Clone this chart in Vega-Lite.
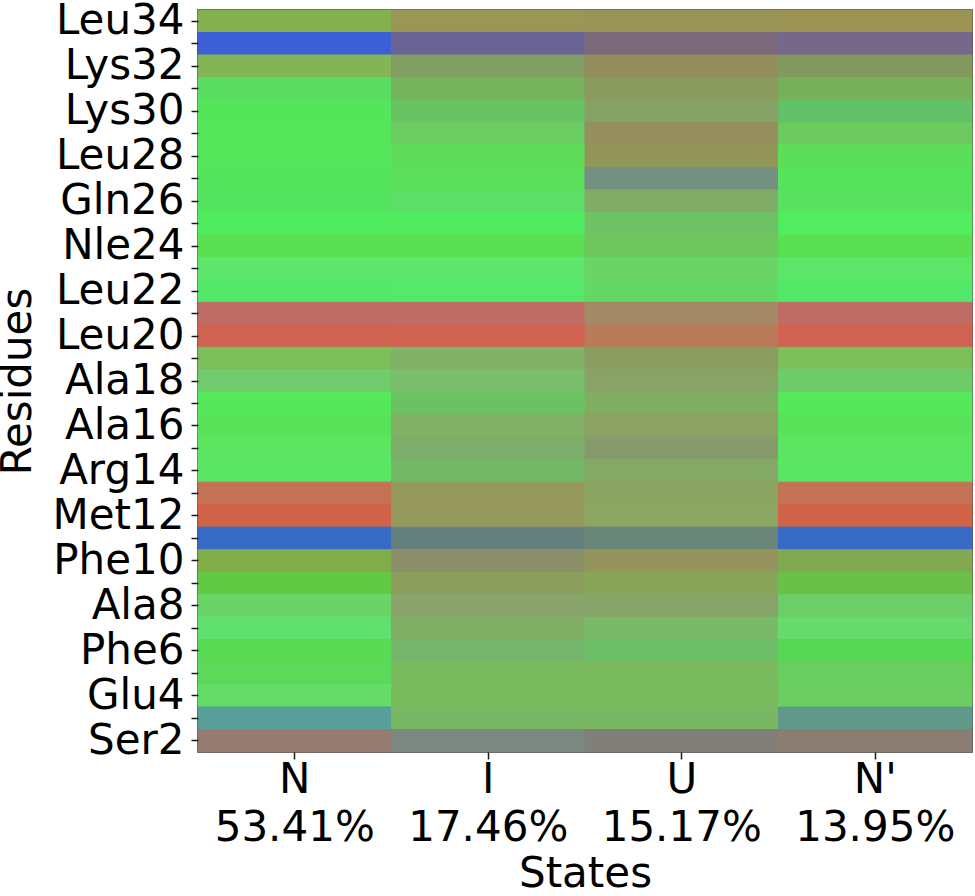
{
  "$schema": "https://vega.github.io/schema/vega-lite/v6.json",
  "autosize": {"type": "none"},
  "padding": {"left": 198, "top": 10, "right": 3, "bottom": 144},
  "width": 774,
  "height": 742,
  "background": "white",
  "datasets": {
    "cells": [
      {"num":34,"residue":"Leu34","state":"N 53.41%","mix":"#85b050"},{"num":34,"residue":"Leu34","state":"I 17.46%","mix":"#9a9655"},{"num":34,"residue":"Leu34","state":"U 15.17%","mix":"#989556"},{"num":34,"residue":"Leu34","state":"N' 13.95%","mix":"#9c9452"},
      {"num":33,"residue":"Gly33","state":"N 53.41%","mix":"#3d5fd6"},{"num":33,"residue":"Gly33","state":"I 17.46%","mix":"#6a6496"},{"num":33,"residue":"Gly33","state":"U 15.17%","mix":"#7a6a7c"},{"num":33,"residue":"Gly33","state":"N' 13.95%","mix":"#76688a"},
      {"num":32,"residue":"Lys32","state":"N 53.41%","mix":"#83b455"},{"num":32,"residue":"Lys32","state":"I 17.46%","mix":"#839e64"},{"num":32,"residue":"Lys32","state":"U 15.17%","mix":"#948d5e"},{"num":32,"residue":"Lys32","state":"N' 13.95%","mix":"#83995f"},
      {"num":31,"residue":"Glu31","state":"N 53.41%","mix":"#5adb62"},{"num":31,"residue":"Glu31","state":"I 17.46%","mix":"#75b45c"},{"num":31,"residue":"Glu31","state":"U 15.17%","mix":"#8a9b5d"},{"num":31,"residue":"Glu31","state":"N' 13.95%","mix":"#78b05a"},
      {"num":30,"residue":"Lys30","state":"N 53.41%","mix":"#55e55b"},{"num":30,"residue":"Lys30","state":"I 17.46%","mix":"#68c463"},{"num":30,"residue":"Lys30","state":"U 15.17%","mix":"#86a264"},{"num":30,"residue":"Lys30","state":"N' 13.95%","mix":"#62c068"},
      {"num":29,"residue":"Nle29","state":"N 53.41%","mix":"#55e65b"},{"num":29,"residue":"Nle29","state":"I 17.46%","mix":"#6bcc62"},{"num":29,"residue":"Nle29","state":"U 15.17%","mix":"#948f5c"},{"num":29,"residue":"Nle29","state":"N' 13.95%","mix":"#6cc960"},
      {"num":28,"residue":"Leu28","state":"N 53.41%","mix":"#55e65b"},{"num":28,"residue":"Leu28","state":"I 17.46%","mix":"#5edd5a"},{"num":28,"residue":"Leu28","state":"U 15.17%","mix":"#929758"},{"num":28,"residue":"Leu28","state":"N' 13.95%","mix":"#5bdf58"},
      {"num":27,"residue":"Asn27","state":"N 53.41%","mix":"#52e55d"},{"num":27,"residue":"Asn27","state":"I 17.46%","mix":"#5cdf5b"},{"num":27,"residue":"Asn27","state":"U 15.17%","mix":"#749080"},{"num":27,"residue":"Asn27","state":"N' 13.95%","mix":"#55e45b"},
      {"num":26,"residue":"Gln26","state":"N 53.41%","mix":"#55e45f"},{"num":26,"residue":"Gln26","state":"I 17.46%","mix":"#5ce068"},{"num":26,"residue":"Gln26","state":"U 15.17%","mix":"#83ab68"},{"num":26,"residue":"Gln26","state":"N' 13.95%","mix":"#58e260"},
      {"num":25,"residue":"Gln25","state":"N 53.41%","mix":"#50ec5f"},{"num":25,"residue":"Gln25","state":"I 17.46%","mix":"#50ec5f"},{"num":25,"residue":"Gln25","state":"U 15.17%","mix":"#6fc263"},{"num":25,"residue":"Gln25","state":"N' 13.95%","mix":"#50ee5f"},
      {"num":24,"residue":"Nle24","state":"N 53.41%","mix":"#5ae052"},{"num":24,"residue":"Nle24","state":"I 17.46%","mix":"#5ae052"},{"num":24,"residue":"Nle24","state":"U 15.17%","mix":"#6dc75c"},{"num":24,"residue":"Nle24","state":"N' 13.95%","mix":"#5ae052"},
      {"num":23,"residue":"Trp23","state":"N 53.41%","mix":"#5de66b"},{"num":23,"residue":"Trp23","state":"I 17.46%","mix":"#5de66b"},{"num":23,"residue":"Trp23","state":"U 15.17%","mix":"#6bd466"},{"num":23,"residue":"Trp23","state":"N' 13.95%","mix":"#5be667"},
      {"num":22,"residue":"Leu22","state":"N 53.41%","mix":"#54e869"},{"num":22,"residue":"Leu22","state":"I 17.46%","mix":"#55e96a"},{"num":22,"residue":"Leu22","state":"U 15.17%","mix":"#63d866"},{"num":22,"residue":"Leu22","state":"N' 13.95%","mix":"#53e86a"},
      {"num":21,"residue":"Pro21","state":"N 53.41%","mix":"#c06c66"},{"num":21,"residue":"Pro21","state":"I 17.46%","mix":"#c06c66"},{"num":21,"residue":"Pro21","state":"U 15.17%","mix":"#a38a66"},{"num":21,"residue":"Pro21","state":"N' 13.95%","mix":"#c06c66"},
      {"num":20,"residue":"Leu20","state":"N 53.41%","mix":"#d06252"},{"num":20,"residue":"Leu20","state":"I 17.46%","mix":"#d26252"},{"num":20,"residue":"Leu20","state":"U 15.17%","mix":"#b87a58"},{"num":20,"residue":"Leu20","state":"N' 13.95%","mix":"#d06252"},
      {"num":19,"residue":"Asn19","state":"N 53.41%","mix":"#7cbf5a"},{"num":19,"residue":"Asn19","state":"I 17.46%","mix":"#82b266"},{"num":19,"residue":"Asn19","state":"U 15.17%","mix":"#8a9c60"},{"num":19,"residue":"Asn19","state":"N' 13.95%","mix":"#7cbf5a"},
      {"num":18,"residue":"Ala18","state":"N 53.41%","mix":"#6fcb6b"},{"num":18,"residue":"Ala18","state":"I 17.46%","mix":"#78be6c"},{"num":18,"residue":"Ala18","state":"U 15.17%","mix":"#87a466"},{"num":18,"residue":"Ala18","state":"N' 13.95%","mix":"#6dcc6a"},
      {"num":17,"residue":"Phe17","state":"N 53.41%","mix":"#55e95a"},{"num":17,"residue":"Phe17","state":"I 17.46%","mix":"#6ac362"},{"num":17,"residue":"Phe17","state":"U 15.17%","mix":"#80ae60"},{"num":17,"residue":"Phe17","state":"N' 13.95%","mix":"#55e95a"},
      {"num":16,"residue":"Ala16","state":"N 53.41%","mix":"#5ae25a"},{"num":16,"residue":"Ala16","state":"I 17.46%","mix":"#82b066"},{"num":16,"residue":"Ala16","state":"U 15.17%","mix":"#8ba262"},{"num":16,"residue":"Ala16","state":"N' 13.95%","mix":"#5ae25a"},
      {"num":15,"residue":"Ser15","state":"N 53.41%","mix":"#5ce560"},{"num":15,"residue":"Ser15","state":"I 17.46%","mix":"#7dae6a"},{"num":15,"residue":"Ser15","state":"U 15.17%","mix":"#859b6c"},{"num":15,"residue":"Ser15","state":"N' 13.95%","mix":"#5ce560"},
      {"num":14,"residue":"Arg14","state":"N 53.41%","mix":"#5ae664"},{"num":14,"residue":"Arg14","state":"I 17.46%","mix":"#72b866"},{"num":14,"residue":"Arg14","state":"U 15.17%","mix":"#84a866"},{"num":14,"residue":"Arg14","state":"N' 13.95%","mix":"#5ae664"},
      {"num":13,"residue":"Thr13","state":"N 53.41%","mix":"#c37354"},{"num":13,"residue":"Thr13","state":"I 17.46%","mix":"#959a5a"},{"num":13,"residue":"Thr13","state":"U 15.17%","mix":"#8aa562"},{"num":13,"residue":"Thr13","state":"N' 13.95%","mix":"#c37354"},
      {"num":12,"residue":"Met12","state":"N 53.41%","mix":"#cf6247"},{"num":12,"residue":"Met12","state":"I 17.46%","mix":"#959a5c"},{"num":12,"residue":"Met12","state":"U 15.17%","mix":"#8ba662"},{"num":12,"residue":"Met12","state":"N' 13.95%","mix":"#cf6247"},
      {"num":11,"residue":"Gly11","state":"N 53.41%","mix":"#366ac4"},{"num":11,"residue":"Gly11","state":"I 17.46%","mix":"#65807c"},{"num":11,"residue":"Gly11","state":"U 15.17%","mix":"#6a8678"},{"num":11,"residue":"Gly11","state":"N' 13.95%","mix":"#366ac4"},
      {"num":10,"residue":"Phe10","state":"N 53.41%","mix":"#80ac4a"},{"num":10,"residue":"Phe10","state":"I 17.46%","mix":"#8c9068"},{"num":10,"residue":"Phe10","state":"U 15.17%","mix":"#94945c"},{"num":10,"residue":"Phe10","state":"N' 13.95%","mix":"#82a852"},
      {"num":9,"residue":"Val9","state":"N 53.41%","mix":"#62c944"},{"num":9,"residue":"Val9","state":"I 17.46%","mix":"#8c9e5c"},{"num":9,"residue":"Val9","state":"U 15.17%","mix":"#88a458"},{"num":9,"residue":"Val9","state":"N' 13.95%","mix":"#6ac048"},
      {"num":8,"residue":"Ala8","state":"N 53.41%","mix":"#6ad466"},{"num":8,"residue":"Ala8","state":"I 17.46%","mix":"#88a46a"},{"num":8,"residue":"Ala8","state":"U 15.17%","mix":"#86a468"},{"num":8,"residue":"Ala8","state":"N' 13.95%","mix":"#6cce66"},
      {"num":7,"residue":"Lys7","state":"N 53.41%","mix":"#60e06e"},{"num":7,"residue":"Lys7","state":"I 17.46%","mix":"#80ae62"},{"num":7,"residue":"Lys7","state":"U 15.17%","mix":"#78ba68"},{"num":7,"residue":"Lys7","state":"N' 13.95%","mix":"#66da6a"},
      {"num":6,"residue":"Phe6","state":"N 53.41%","mix":"#58da55"},{"num":6,"residue":"Phe6","state":"I 17.46%","mix":"#76b56e"},{"num":6,"residue":"Phe6","state":"U 15.17%","mix":"#6fbf68"},{"num":6,"residue":"Phe6","state":"N' 13.95%","mix":"#58d655"},
      {"num":5,"residue":"Asp5","state":"N 53.41%","mix":"#5cd85a"},{"num":5,"residue":"Asp5","state":"I 17.46%","mix":"#7abb5e"},{"num":5,"residue":"Asp5","state":"U 15.17%","mix":"#7abb5e"},{"num":5,"residue":"Asp5","state":"N' 13.95%","mix":"#68cf5e"},
      {"num":4,"residue":"Glu4","state":"N 53.41%","mix":"#66dc68"},{"num":4,"residue":"Glu4","state":"I 17.46%","mix":"#7abb5e"},{"num":4,"residue":"Glu4","state":"U 15.17%","mix":"#7abb5e"},{"num":4,"residue":"Glu4","state":"N' 13.95%","mix":"#6cce62"},
      {"num":3,"residue":"Asp3","state":"N 53.41%","mix":"#589e9a"},{"num":3,"residue":"Asp3","state":"I 17.46%","mix":"#78b862"},{"num":3,"residue":"Asp3","state":"U 15.17%","mix":"#78b862"},{"num":3,"residue":"Asp3","state":"N' 13.95%","mix":"#60998a"},
      {"num":2,"residue":"Ser2","state":"N 53.41%","mix":"#967c70"},{"num":2,"residue":"Ser2","state":"I 17.46%","mix":"#7a8880"},{"num":2,"residue":"Ser2","state":"U 15.17%","mix":"#808078"},{"num":2,"residue":"Ser2","state":"N' 13.95%","mix":"#8a7e74"}
    ]
  },
  "data": {"name": "cells"},
  "mark": {"type": "rect", "strokeWidth": 1},
  "encoding": {
    "x": {
      "field": "state",
      "type": "nominal",
      "sort": ["N 53.41%", "I 17.46%", "U 15.17%", "N' 13.95%"],
      "scale": {"paddingInner": 0, "paddingOuter": 0},
      "axis": {
        "title": "States",
        "labelAngle": 0,
        "labelExpr": "split(datum.label, ' ')",
        "labelLineHeight": 48,
        "tickSize": 7,
        "labelPadding": 0,
        "titlePadding": 5
      }
    },
    "y": {
      "field": "residue",
      "type": "nominal",
      "sort": {"field": "num", "order": "descending"},
      "scale": {"paddingInner": 0, "paddingOuter": 0},
      "axis": {
        "title": "Residues",
        "labelExpr": "toNumber(substring(datum.label, 3)) % 2 == 0 ? datum.label : ''",
        "tickSize": 7,
        "labelPadding": 7,
        "titlePadding": 13
      }
    },
    "color": {"field": "mix", "type": "nominal", "scale": null, "legend": null},
    "stroke": {"field": "mix", "type": "nominal", "scale": null, "legend": null}
  },
  "config": {
    "view": {"stroke": "#1a1a1a", "strokeWidth": 1.5},
    "axis": {
      "domain": false,
      "grid": false,
      "labelFont": "DejaVu Sans",
      "labelFontSize": 42,
      "labelColor": "#000000",
      "labelOverlap": false,
      "tickColor": "#1a1a1a",
      "tickWidth": 1.5,
      "titleFont": "DejaVu Sans",
      "titleFontSize": 42,
      "titleFontWeight": "normal",
      "titleColor": "#000000"
    }
  }
}
